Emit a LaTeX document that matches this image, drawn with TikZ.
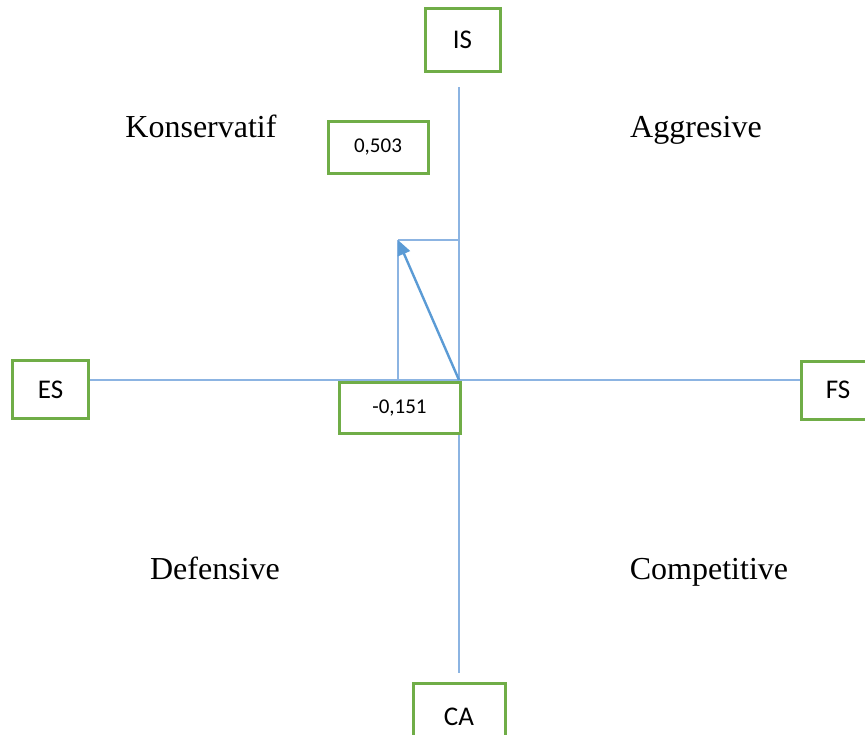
\documentclass[tikz,border=0pt]{standalone}
\usepackage{fontspec}
\setmainfont{Liberation Serif}
\newfontfamily\calibri{Carlito}
\usetikzlibrary{arrows.meta}

\begin{document}
\begin{tikzpicture}[x=1pt,y=-1pt,
  box/.style={draw=boxgreen, line width=3pt, fill=white, inner sep=0pt, font=\calibri\fontsize{27}{30}\selectfont},
  numbox/.style={box, font=\calibri\fontsize{21}{24}\selectfont},
  axis/.style={draw=axisblue, line width=1.2pt},
  quad/.style={anchor=base, font=\fontsize{32}{38}\selectfont}]
\definecolor{boxgreen}{RGB}{112,173,71}
\definecolor{axisblue}{RGB}{140,180,226}
\definecolor{vecblue}{RGB}{91,155,213}
\useasboundingbox (0,0) rectangle (865,734);

% axes
\coordinate (top) at (459,87);
\coordinate (bottom) at (459,673);
\coordinate (origin) at (459,380);
\coordinate (tip) at (398,240);
\draw[axis] (top) -- (bottom);

\node[box, minimum width=76pt, minimum height=58pt] (es) at (50.5,389.5) {ES};
\node[box, minimum width=74pt, minimum height=58pt] (fs) at (838,390) {FS};
\draw[axis] (es.east |- origin) -- (fs.west |- origin);

\node[box, minimum width=75pt, minimum height=63pt] (is) at (462.5,39.5) {IS};
\node[box, minimum width=92pt, minimum height=68pt] (ca) at (459,717) {CA};

\node[numbox, minimum width=100pt, minimum height=52pt] (yval) at (378,147) {0,503};
\node[numbox, minimum width=121pt, minimum height=51pt] (xval) at (399.5,408) {-0,151};

% quadrants
\node[quad] (kons) at (201,137) {Konservatif};
\node[quad] (aggr) at (696,137) {Aggresive};
\node[quad] (defe) at (215,579) {Defensive};
\node[quad] (comp) at (709,579) {Competitive};

% result vector
\draw[axis] (tip) -- (tip |- xval.north);
\draw[axis] (tip) -- (origin |- tip);
\draw[vecblue, line width=2.4pt, -{Triangle[length=15pt,width=13pt]}] (origin) -- (tip);
\end{tikzpicture}
\end{document}
